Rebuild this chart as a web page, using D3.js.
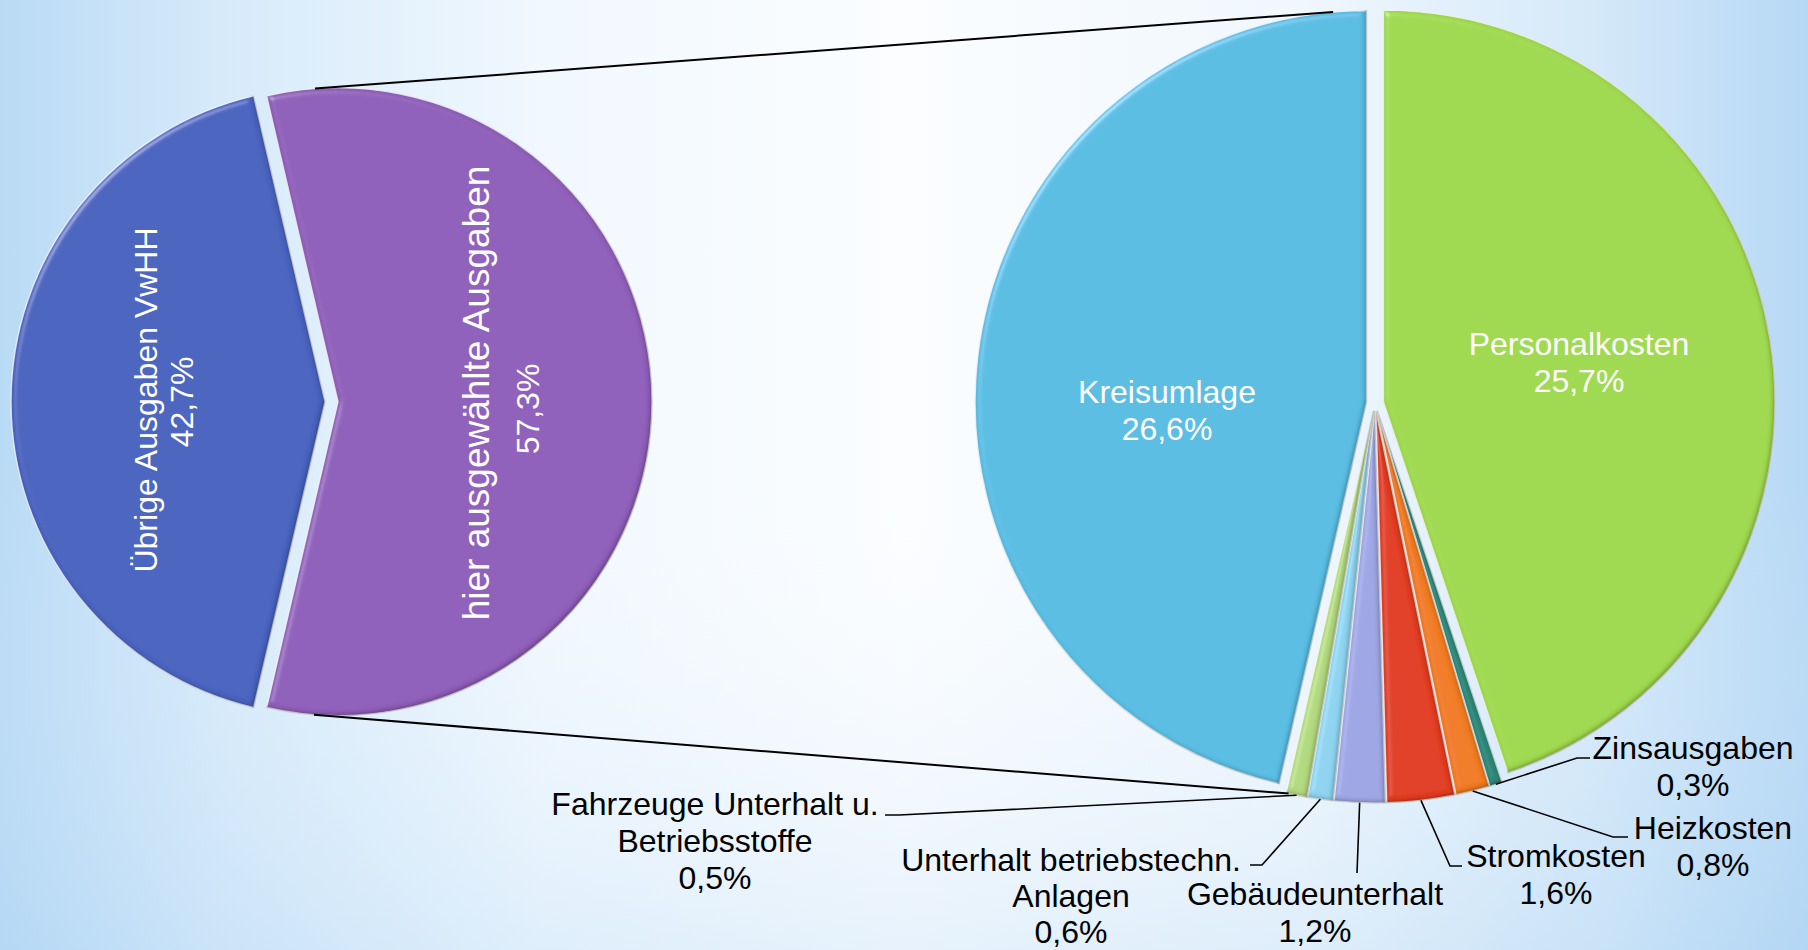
<!DOCTYPE html>
<html><head><meta charset="utf-8">
<script src="https://cdn.jsdelivr.net/npm/d3@7"></script>
<style>html,body{margin:0;padding:0;overflow:hidden;background:#fff}svg{display:block}</style>
</head><body>
<svg id="chart" width="1808" height="950"></svg>
<script>
// ---------- data ----------
const leftCategories = ["hier ausgewählte Ausgaben", "Übrige Ausgaben VwHH"];
const leftValues = [57.3, 42.7];
const rightCategories = ["Personalkosten", "Zinsausgaben", "Heizkosten", "Stromkosten",
  "Gebäudeunterhalt", "Unterhalt betriebstechn. Anlagen", "Fahrzeuge Unterhalt u. Betriebsstoffe", "Kreisumlage"];
const rightValues = [25.7, 0.3, 0.8, 1.6, 1.2, 0.6, 0.5, 26.6];
const leftLabelLines = [["hier ausgewählte Ausgaben"], ["Übrige Ausgaben VwHH"]];
const rightLabelLines = [["Personalkosten"], ["Zinsausgaben"], ["Heizkosten"], ["Stromkosten"],
  ["Gebäudeunterhalt"], ["Unterhalt betriebstechn.", "Anlagen"], ["Fahrzeuge Unterhalt u.", "Betriebsstoffe"], ["Kreisumlage"]];

// ---------- styles / layout ----------
const leftColors = ["#8f5fb9", "#4a63bf"];
const rightColors = ["#9fd94f", "#2f8a7c", "#f07b22", "#e13e24", "#9ea6e4", "#8ed3ef", "#b2d97f", "#5abde3"];
const W = 1808, H = 950;
const L = {cx: 331.5, cy: 401.7, r: 314, explode: 6.5};
const R = {cx: 1375, cy: 403, r: 391.5, explode: 8.5};
const FONT = "'Liberation Sans', Arial, sans-serif";
const LINE = 37;

// label layout (first-line centre, leader elbow, leader end)
const leftLabelLayout = [
  {x: 476, y: 393, size: 37, x2: 528, y2: 409},
  {x: 146, y: 400, size: 32, x2: 182, y2: 402}
];
const rightLabelLayout = [
  {x: 1579, y: 344, inside: true},
  {x: 1693, y: 748, elbow: [1577, 758], end: [1590, 758]},
  {x: 1713, y: 828, elbow: [1613, 837], end: [1628, 837]},
  {x: 1556, y: 856, elbow: [1450, 866], end: [1462, 866]},
  {x: 1315, y: 894, elbow: [1357, 873], end: [1357, 873]},
  {x: 1071, y: 860, elbow: [1262, 865], end: [1250, 865], line: 36},
  {x: 715, y: 804, elbow: [899, 815], end: [885, 815]},
  {x: 1167, y: 392, inside: true}
];
// connector angles (deg): [left pie angle, right pie angle]
const connectors = [[-4.2, -4.9], [184.4, 192.5]];

const fmt = v => v.toFixed(1).replace(".", ",") + "%";
const rad = d => d * Math.PI / 180;

const svg = d3.select("#chart");
const defs = svg.append("defs");

// background gradient
const bg = defs.append("linearGradient").attr("id", "bg").attr("x1", 0).attr("x2", 1).attr("y1", 0).attr("y2", 0);
[[0, "#b9daf5"], [0.12, "#d6eafa"], [0.3, "#f1f8fe"], [0.5, "#fbfdff"], [0.72, "#f0f7fd"], [0.88, "#d5e9f9"], [1, "#b6d8f5"]]
  .forEach(([o, c]) => bg.append("stop").attr("offset", o).attr("stop-color", c));
const bg2 = defs.append("linearGradient").attr("id", "bg2").attr("x1", 0).attr("x2", 0).attr("y1", 0).attr("y2", 1);
[[0, "#ffffff", 0.0], [0.5, "#ffffff", 0.0], [1, "#a9d1f3", 0.25]]
  .forEach(([o, c, a]) => bg2.append("stop").attr("offset", o).attr("stop-color", c).attr("stop-opacity", a));
svg.append("rect").attr("width", W).attr("height", H).attr("fill", "url(#bg)");
svg.append("rect").attr("width", W).attr("height", H).attr("fill", "url(#bg2)");

// bevel filter
const f = defs.append("filter").attr("id", "bevel").attr("x", "-10%").attr("y", "-10%").attr("width", "120%").attr("height", "120%");
f.append("feGaussianBlur").attr("in", "SourceAlpha").attr("stdDeviation", 3).attr("result", "b");
const sp = f.append("feSpecularLighting").attr("in", "b").attr("surfaceScale", 4).attr("specularConstant", 0.5)
  .attr("specularExponent", 35).attr("lighting-color", "#ffffff").attr("result", "s");
sp.append("feDistantLight").attr("azimuth", 225).attr("elevation", 40);
f.append("feComposite").attr("in", "s").attr("in2", "SourceAlpha").attr("operator", "in").attr("result", "s2");
f.append("feComposite").attr("in", "SourceGraphic").attr("in2", "s2").attr("operator", "arithmetic")
  .attr("k1", 0).attr("k2", 1).attr("k3", 0.5).attr("k4", 0).attr("result", "lit");
f.append("feComponentTransfer").attr("in", "SourceAlpha").attr("result", "inv")
  .append("feFuncA").attr("type", "table").attr("tableValues", "1 0");
f.append("feGaussianBlur").attr("in", "inv").attr("stdDeviation", 2).attr("result", "invb");
f.append("feOffset").attr("in", "invb").attr("dx", -2.5).attr("dy", -2.5).attr("result", "invo");
f.append("feFlood").attr("flood-color", "#000").attr("flood-opacity", 0.6).attr("result", "fl");
f.append("feComposite").attr("in", "fl").attr("in2", "invo").attr("operator", "in").attr("result", "sh");
f.append("feComposite").attr("in", "sh").attr("in2", "SourceAlpha").attr("operator", "in").attr("result", "shin");
const fm = f.append("feMerge");
fm.append("feMergeNode").attr("in", "lit");
fm.append("feMergeNode").attr("in", "shin");

// ---------- pies ----------
const leftTotal = d3.sum(leftValues);
const leftStart = Math.PI / 2 - (leftValues[0] / leftTotal) * Math.PI; // centre first slice to the right
const leftPie = d3.pie().sort(null).value(d => d).startAngle(leftStart).endAngle(leftStart + 2 * Math.PI);
const rightPie = d3.pie().sort(null).value(d => d).startAngle(0).endAngle(2 * Math.PI);

const leftArcs = leftPie(leftValues);
const rightArcs = rightPie(rightValues);

function offset(a, P) {
  const m = (a.startAngle + a.endAngle) / 2;
  return [P.cx + P.explode * Math.sin(m), P.cy - P.explode * Math.cos(m)];
}
function drawPie(arcs, P, colors, cls) {
  const arc = d3.arc().innerRadius(0).outerRadius(P.r);
  const g = svg.append("g").attr("class", cls);
  g.selectAll("path").data(arcs).join("path")
    .attr("transform", d => `translate(${offset(d, P)})`)
    .attr("d", arc)
    .attr("fill", (d, i) => colors[i])
    .attr("stroke", "rgba(255,255,255,0.8)")
    .attr("stroke-width", 1.4)
    .attr("stroke-linejoin", "round")
    .attr("filter", "url(#bevel)");
}
drawPie(leftArcs, L, leftColors, "left");
drawPie(rightArcs, R, rightColors, "right");

// point on a pie's (exploded) rim for an angle in degrees
function rimPoint(arcs, P, deg) {
  const a = rad(deg);
  const norm = ((a % (2 * Math.PI)) + 2 * Math.PI) % (2 * Math.PI);
  const s = arcs.find(d => {
    const s0 = ((d.startAngle % (2 * Math.PI)) + 2 * Math.PI) % (2 * Math.PI);
    const span = d.endAngle - d.startAngle;
    let rel = norm - s0; if (rel < 0) rel += 2 * Math.PI;
    return rel <= span;
  }) || arcs[0];
  const o = offset(s, P);
  return [o[0] + P.r * Math.sin(a), o[1] - P.r * Math.cos(a)];
}

// connector lines
const lineGen = d3.line();
connectors.forEach(([la, ra]) => {
  svg.append("path").attr("d", lineGen([rimPoint(leftArcs, L, la), rimPoint(rightArcs, R, ra)]))
    .attr("fill", "none").attr("stroke", "#000").attr("stroke-width", 2);
});

// ---------- labels ----------
// left pie (rotated)
leftArcs.forEach((d, i) => {
  const lay = leftLabelLayout[i];
  svg.append("text").attr("transform", `translate(${lay.x},${lay.y}) rotate(-90)`)
    .attr("text-anchor", "middle").attr("dy", "0.35em")
    .attr("font-family", FONT).attr("font-size", lay.size).attr("fill", "#fff")
    .text(leftLabelLines[i][0]);
  svg.append("text").attr("transform", `translate(${lay.x2},${lay.y2}) rotate(-90)`)
    .attr("text-anchor", "middle").attr("dy", "0.35em")
    .attr("font-family", FONT).attr("font-size", 32).attr("fill", "#fff")
    .text(fmt(leftValues[i]));
});

// right pie
rightArcs.forEach((d, i) => {
  const lay = rightLabelLayout[i];
  const lines = rightLabelLines[i].concat([fmt(rightValues[i])]);
  if (!lay.inside) {
    const m = (d.startAngle + d.endAngle) / 2;
    const o = offset(d, R);
    const p0 = [o[0] + R.r * Math.sin(m), o[1] - R.r * Math.cos(m)];
    svg.append("path").attr("d", lineGen([p0, lay.elbow, lay.end]))
      .attr("fill", "none").attr("stroke", "#000").attr("stroke-width", 1.6);
  }
  const t = svg.append("text").attr("text-anchor", "middle")
    .attr("font-family", FONT).attr("font-size", 32)
    .attr("fill", lay.inside ? "#fff" : "#000");
  const lh = lay.line || LINE;
  lines.forEach((ln, k) => {
    t.append("tspan").attr("x", lay.x).attr("y", lay.y + k * lh).attr("dy", "0.35em").text(ln);
  });
});
</script>
</body></html>
